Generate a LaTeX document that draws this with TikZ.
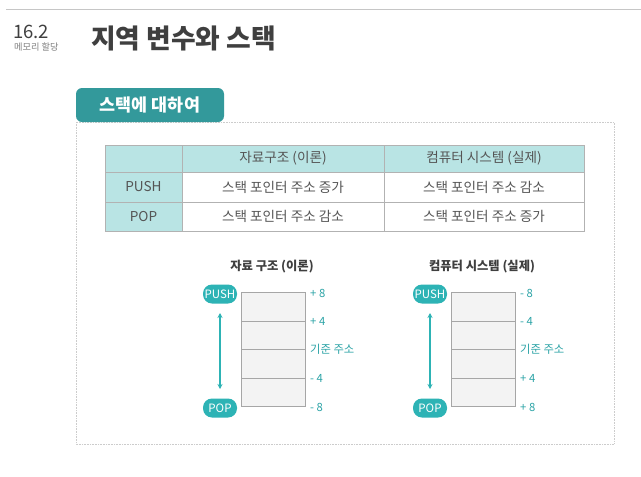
\documentclass[tikz,border=0pt]{standalone}
\usepackage{fontspec}
\setmainfont{Noto Sans CJK KR}
\usetikzlibrary{arrows.meta}
\definecolor{tealdark}{HTML}{33999B}
\definecolor{tealpill}{HTML}{2DB3B5}
\definecolor{teallabel}{HTML}{2AA3A6}
\definecolor{headfill}{HTML}{B9E4E4}
\definecolor{txtgray}{HTML}{555555}
\definecolor{titlegray}{HTML}{3F3F3F}
\definecolor{cellfill}{HTML}{F3F3F3}
\tikzset{
  cell/.style={font=\fontsize{13.6}{15}\selectfont, text=txtgray},
  pill/.style={rounded corners=9pt, fill=tealpill, text=white, minimum width=34pt, minimum height=19pt, inner sep=0pt, font=\fontsize{11.5}{13}\selectfont},
  offs/.style={anchor=west, text=teallabel, font=\fontsize{11.3}{13}\selectfont, inner sep=0pt},
  dtitle/.style={text=titlegray, font=\bfseries\fontsize{12.3}{14}\selectfont},
  stackbox/.style={draw=gray!70, fill=cellfill, line width=0.6pt},
  dbl/.style={draw=tealpill, line width=1.2pt, {Stealth[length=5pt,width=5pt]}-{Stealth[length=5pt,width=5pt]}}
}
\begin{document}
\begin{tikzpicture}[x=1pt,y=-1pt]
\useasboundingbox[fill=white] (0,0) rectangle (641,477);
% top rule
\draw[gray!45, line width=0.8pt] (6,9) -- (641,9);
% header
\node[anchor=west, inner sep=0pt, text=titlegray, font=\fontsize{18.5}{20}\selectfont] (num) at (13,32) {16.2};
\node[anchor=west, inner sep=0pt, text=gray, font=\fontsize{9.2}{10}\selectfont] (sub) at (14,47) {메모리 할당};
\node[anchor=west, inner sep=0pt, text=titlegray, font=\bfseries\fontsize{26.8}{28}\selectfont] (title) at (91,38.5) {지역 변수와 스택};
% outer dotted box
\draw[gray!40, densely dotted, line width=0.6pt] (76,122) rectangle (614,444);
% tab
\path[fill=tealdark, rounded corners=6pt] (76,122) -- (76,88) -- (224,88) -- (224,122) -- cycle;
\node[text=white, font=\bfseries\fontsize{17.4}{19}\selectfont] (tab) at (150,105) {스택에 대하여};
% table
\fill[headfill] (105,145) rectangle (584,172);
\fill[headfill] (105,172) rectangle (182,231);
\draw[gray!60, line width=0.6pt] (105,145) rectangle (584,231);
\draw[gray!60, line width=0.6pt] (105,172) -- (584,172);
\draw[gray!60, line width=0.6pt] (105,202) -- (584,202);
\draw[gray!60, line width=0.6pt] (182,145) -- (182,231);
\draw[gray!60, line width=0.6pt] (384,145) -- (384,231);
\node[cell] (h1) at (283,158.5) {자료구조 (이론)};
\node[cell] (h2) at (484,158.5) {컴퓨터 시스템 (실제)};
\node[cell] (r1) at (143.5,187) {PUSH};
\node[cell] (r1a) at (283,187) {스택 포인터 주소 증가};
\node[cell] (r1b) at (484,187) {스택 포인터 주소 감소};
\node[cell] (r2) at (143.5,216.5) {POP};
\node[cell] (r2a) at (283,216.5) {스택 포인터 주소 감소};
\node[cell] (r2b) at (484,216.5) {스택 포인터 주소 증가};
% left diagram
\node[dtitle] (lt) at (272,267) {자료 구조 (이론)};
\foreach \i/\ya/\yb in {1/292.7/321,2/321/349.3,3/349.3/378.3,4/378.3/406.7}
  \draw[stackbox] (241,\ya) rectangle (305,\yb);
\node[pill] (lpush) at (220,294) {PUSH};
\node[pill] (lpop) at (220,408) {POP};
\coordinate (la) at (220,313);
\coordinate (lb) at (220,389);
\draw[dbl] (la) -- (lb);
\node[offs] (l1) at (310,293) {+ 8};
\node[offs] (l2) at (310,321) {+ 4};
\node[offs] (l3) at (310,349.5) {기준 주소};
\node[offs] (l4) at (310,378.5) {- 4};
\node[offs] (l5) at (310,407) {- 8};
% right diagram
\node[dtitle] (rt) at (482,267) {컴퓨터 시스템 (실제)};
\foreach \i/\ya/\yb in {1/292.7/321,2/321/349.3,3/349.3/378.3,4/378.3/406.7}
  \draw[stackbox] (451,\ya) rectangle (515,\yb);
\node[pill] (rpush) at (430,294) {PUSH};
\node[pill] (rpop) at (430,408) {POP};
\coordinate (ra) at (430,313);
\coordinate (rb) at (430,389);
\draw[dbl] (ra) -- (rb);
\node[offs] (q1) at (520,293) {- 8};
\node[offs] (q2) at (520,321) {- 4};
\node[offs] (q3) at (520,349.5) {기준 주소};
\node[offs] (q4) at (520,378.5) {+ 4};
\node[offs] (q5) at (520,407) {+ 8};
\end{tikzpicture}
\end{document}
